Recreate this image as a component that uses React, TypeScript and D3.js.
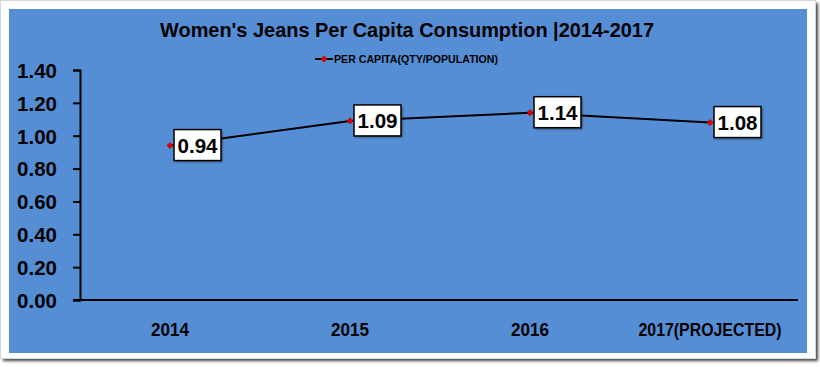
import React, { useEffect, useRef } from 'react';
import * as d3 from 'd3';

const categories = ['2014', '2015', '2016', '2017(PROJECTED)'];
const perCapita = [0.94, 1.09, 1.14, 1.08];
const yTicks = [0, 0.2, 0.4, 0.6, 0.8, 1.0, 1.2, 1.4];
const chartTitle = "Women's Jeans Per Capita Consumption |2014-2017";
const seriesName = 'PER CAPITA(QTY/POPULATION)';

const FONT = "'Liberation Sans', Arial, sans-serif";

// squeeze a text to a target width (Calibri is narrower than the installed fonts)
const fit = (sel: d3.Selection<SVGTextElement, any, any, any>, target: number) => {
    sel.each(function () {
        const len = this.getComputedTextLength();
        if (len > target) {
            d3.select(this).attr('textLength', target).attr('lengthAdjust', 'spacingAndGlyphs');
        }
    });
};

const App: React.FC = () => {
    const svgRef = useRef<SVGSVGElement>(null);

    useEffect(() => {
        if (!svgRef.current) return;
        const svg = d3.select(svgRef.current);
        svg.selectAll('*').remove();

        const width = 820;
        const height = 367;
        const margin = { top: 70, right: 20, bottom: 67, left: 80 };

        // drop shadow
        const defs = svg.append('defs');
        const f = defs.append('filter').attr('id', 'shadow').attr('x', '-5%').attr('y', '-5%').attr('width', '110%').attr('height', '110%');
        f.append('feGaussianBlur').attr('stdDeviation', 1.5);
        const bf = defs.append('filter').attr('id', 'boxshadow').attr('x', '-20%').attr('y', '-20%').attr('width', '140%').attr('height', '140%');
        bf.append('feGaussianBlur').attr('stdDeviation', 1.2);

        svg.append('rect').attr('width', width).attr('height', height).attr('fill', '#fff');
        svg.append('rect')
            .attr('x', 3).attr('y', 3).attr('width', 815).attr('height', 358)
            .attr('fill', '#444').attr('filter', 'url(#shadow)');
        svg.append('rect')
            .attr('x', 0.5).attr('y', 0.5).attr('width', 815).attr('height', 358)
            .attr('fill', '#fff').attr('stroke', '#d8d8d8');

        // chart area
        svg.append('rect')
            .attr('x', 9).attr('y', 9).attr('width', 798).attr('height', 344)
            .attr('fill', '#558ED5');

        const x = d3.scaleBand<string>()
            .domain(categories)
            .range([margin.left, width - margin.right])
            .padding(0);

        const y = d3.scaleLinear()
            .domain([0, 1.4])
            .range([height - margin.bottom, margin.top]);

        // title
        const title = svg.append('text')
            .attr('x', 407).attr('y', 37)
            .attr('text-anchor', 'middle')
            .attr('font-family', FONT)
            .attr('font-weight', 'bold')
            .attr('font-size', 21)
            .attr('fill', '#000')
            .text(chartTitle);
        fit(title as any, 494);

        // legend
        const marker = d3.symbol(d3.symbolSquare, 20)();
        const lg = svg.append('g').attr('transform', 'translate(315,59)');
        lg.append('line').attr('x1', 0).attr('x2', 18).attr('stroke', '#000').attr('stroke-width', 2);
        lg.append('path').attr('d', marker).attr('transform', 'translate(9,0) rotate(45)')
            .attr('fill', '#e00000').attr('stroke', '#900').attr('stroke-width', 0.5);
        const lt = lg.append('text').attr('x', 19).attr('y', 4)
            .attr('font-family', FONT).attr('font-weight', 'bold').attr('font-size', 11.5)
            .attr('fill', '#000').text(seriesName);
        fit(lt as any, 164);

        // y axis
        const yAxis = svg.append('g')
            .attr('transform', `translate(${margin.left},0)`)
            .call(d3.axisLeft(y).tickValues(yTicks).tickFormat(d3.format('.2f')).tickSize(7).tickPadding(16));
        yAxis.select('.domain').attr('stroke', '#000').attr('stroke-width', 2);
        yAxis.selectAll('.tick line').attr('stroke', '#000').attr('stroke-width', 2);
        const yt = yAxis.selectAll<SVGTextElement, number>('.tick text')
            .attr('font-family', FONT).attr('font-weight', 'bold').attr('font-size', 20.5)
            .attr('fill', '#000').attr('dy', '0.36em');
        fit(yt, 40);

        // x axis
        const xAxis = svg.append('g')
            .attr('transform', `translate(0,${height - margin.bottom})`)
            .call(d3.axisBottom(x).tickSize(0).tickPadding(23));
        xAxis.select('.domain').attr('stroke', '#000').attr('stroke-width', 2)
            .attr('d', `M${margin.left - 7},0H${width - margin.right - 2}`);
        const xt = xAxis.selectAll<SVGTextElement, string>('.tick text')
            .attr('font-family', FONT).attr('font-weight', 'bold').attr('font-size', 18.5)
            .attr('fill', '#000');
        xt.each(function (d) {
            fit(d3.select(this), d.length > 4 ? 143 : 38);
        });

        const cx = (d: string) => (x(d) as number) + x.bandwidth() / 2;
        const pts = categories.map((c, i) => ({ c, v: perCapita[i] }));

        const line = d3.line<{ c: string; v: number }>()
            .x(d => cx(d.c))
            .y(d => y(d.v));

        svg.append('path')
            .datum(pts)
            .attr('fill', 'none')
            .attr('stroke', '#000')
            .attr('stroke-width', 2)
            .attr('d', line);

        svg.selectAll('.marker')
            .data(pts)
            .enter().append('path')
            .attr('d', marker)
            .attr('transform', d => `translate(${cx(d.c)},${y(d.v)}) rotate(45)`)
            .attr('fill', '#e00000').attr('stroke', '#900').attr('stroke-width', 0.5);

        // data labels
        const bw = 47, bh = 31;
        const lab = svg.selectAll('.lab').data(pts).enter().append('g')
            .attr('transform', d => `translate(${cx(d.c) + 4},${y(d.v) - bh / 2 - 0.5})`);
        lab.append('rect').attr('x', 1.5).attr('y', 1.5).attr('width', bw).attr('height', bh)
            .attr('fill', '#222').attr('opacity', 0.6).attr('filter', 'url(#boxshadow)');
        lab.append('rect').attr('width', bw).attr('height', bh)
            .attr('fill', '#fff').attr('stroke', '#000').attr('stroke-width', 1.5);
        const ltx = lab.append('text').attr('x', bw / 2).attr('y', bh / 2).attr('dy', '0.36em')
            .attr('text-anchor', 'middle')
            .attr('font-family', FONT).attr('font-weight', 'bold').attr('font-size', 21)
            .attr('fill', '#000')
            .text(d => d3.format('.2f')(d.v));
        fit(ltx as any, 40);
    }, []);

    return (
        <div>
            <style>{`body{margin:0}`}</style>
            <svg ref={svgRef} width={820} height={367} viewBox="0 0 820 367" style={{ display: 'block' }} />
        </div>
    );
};

export default App;
